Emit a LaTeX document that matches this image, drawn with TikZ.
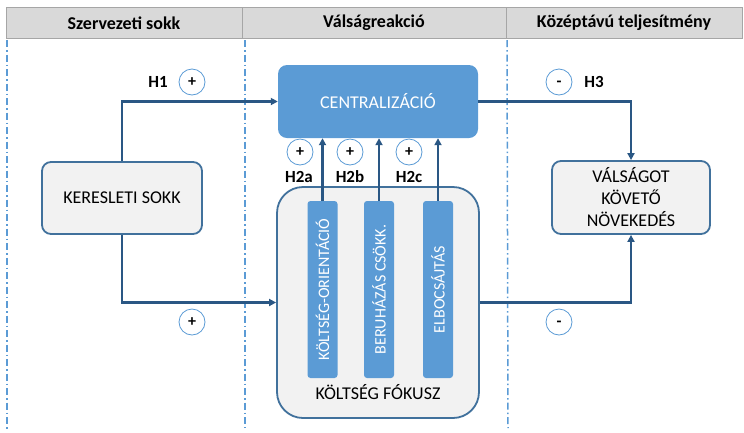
\documentclass[tikz,border=0pt]{standalone}
\usepackage{fontspec}
\setmainfont{Carlito}
\usetikzlibrary{arrows.meta}
\definecolor{hdrfill}{HTML}{D9D9D9}
\definecolor{hdrline}{HTML}{A6A6A6}
\definecolor{dashblue}{HTML}{5B9BD5}
\definecolor{boxline}{HTML}{41719C}
\definecolor{boxfill}{HTML}{F2F2F2}
\definecolor{arrblue}{HTML}{2A5784}
\definecolor{midblue}{HTML}{5B9BD5}
\tikzset{
  guide/.style={dashblue, line width=1.5pt, dash pattern=on 7pt off 3pt on 1.5pt off 3pt},
  greybox/.style={draw=boxline, line width=1.8pt, fill=boxfill, rounded corners=9pt, font=\fontsize{18}{22}\selectfont, align=center, inner sep=0pt},
  bluebox/.style={fill=midblue, draw=none, rounded corners=9pt, text=white, font=\fontsize{18}{20}\selectfont, inner sep=0pt},
  barbox/.style={fill=midblue, draw=none, rounded corners=3pt, text=white, font=\fontsize{16}{18}\selectfont, inner sep=0pt, minimum width=30pt, minimum height=177pt},
  arr/.style={arrblue, line width=2.4pt, -{Triangle[length=7pt,width=7pt]}},
  sign/.style={circle, draw=dashblue, line width=0.8pt, fill=white, minimum size=26pt, inner sep=0pt, font=\bfseries\fontsize{16}{16}\selectfont},
  hlab/.style={font=\bfseries\fontsize{17}{18}\selectfont, inner sep=0pt},
  hdr/.style={font=\bfseries\fontsize{18}{20}\selectfont, inner sep=0pt}
}
\begin{document}
\begin{tikzpicture}[x=1pt,y=-1pt]
\useasboundingbox (0,0) rectangle (744,432);
% header
\fill[hdrfill] (6,7) rectangle (742,38);
\draw[hdrline, line width=1pt] (6,7) rectangle (742,38);
\draw[hdrline, line width=1pt] (242,7) -- (242,38);
\draw[hdrline, line width=1pt] (506,7) -- (506,38);
\node[hdr] (h1) at (124,23) {Szervezeti sokk};
\node[hdr] (h2) at (374,23) {Válságreakció};
\node[hdr] (h3) at (624,23) {Középtávú teljesítmény};
% guides
\draw[guide] (7,40) -- (7,431);
\draw[guide] (245,40) -- (245,428);
\draw[guide] (507,40) -- (508,428);
% boxes
\node[greybox, minimum width=160pt, minimum height=72pt] (ks) at (122,198) {KERESLETI SOKK};
\node[bluebox, minimum width=200pt, minimum height=73pt] (cent) at (378,101.5) {CENTRALIZÁCIÓ};
\node[greybox, minimum width=158pt, minimum height=73pt] (vk) at (631,197.5) {VÁLSÁGOT\\KÖVETŐ\\NÖVEKEDÉS};
\node[greybox, rounded corners=26pt, minimum width=202pt, minimum height=231pt] (kf) at (378,302.5) {};
\node[font=\fontsize{18}{20}\selectfont, inner sep=0pt] (kflab) at (378,392) {KÖLTSÉG FÓKUSZ};
\node[barbox] (b1) at (322.5,289.5) {\rotatebox{90}{KÖLTSÉG-ORIENTÁCIÓ}};
\node[barbox] (b2) at (379,289.5) {\rotatebox{90}{BERUHÁZÁS CSÖKK.}};
\node[barbox] (b3) at (438,289.5) {\rotatebox{90}{ELBOCSÁJTÁS}};
% connectors
\draw[arr] (ks.north) |- (cent.west);
\draw[arr] (ks.south) |- (kf.west);
\draw[arr] (cent.east) -| (vk.north);
\draw[arr] (kf.east) -| (vk.south);
\draw[arr] (b1.north) -- (b1.north |- cent.south);
\draw[arr] (b2.north) -- (b2.north |- cent.south);
\draw[arr] (b3.north) -- (b3.north |- cent.south);
% signs and labels
\node[sign] (s1) at (192,82) {+};
\node[hlab] (l1) at (158,82) {H1};
\node[sign] (s3) at (559,82) {\vphantom{+}-};
\node[hlab] (l3) at (594,82) {H3};
\node[sign] (s2a) at (300,152) {+};
\node[hlab] (l2a) at (299,177) {H2a};
\node[sign] (s2b) at (350,152) {+};
\node[hlab] (l2b) at (350,177) {H2b};
\node[sign] (s2c) at (409,152) {+};
\node[hlab] (l2c) at (409,177) {H2c};
\node[sign] (s4) at (192,322) {+};
\node[sign] (s5) at (559,322) {\vphantom{+}-};
\end{tikzpicture}
\end{document}
